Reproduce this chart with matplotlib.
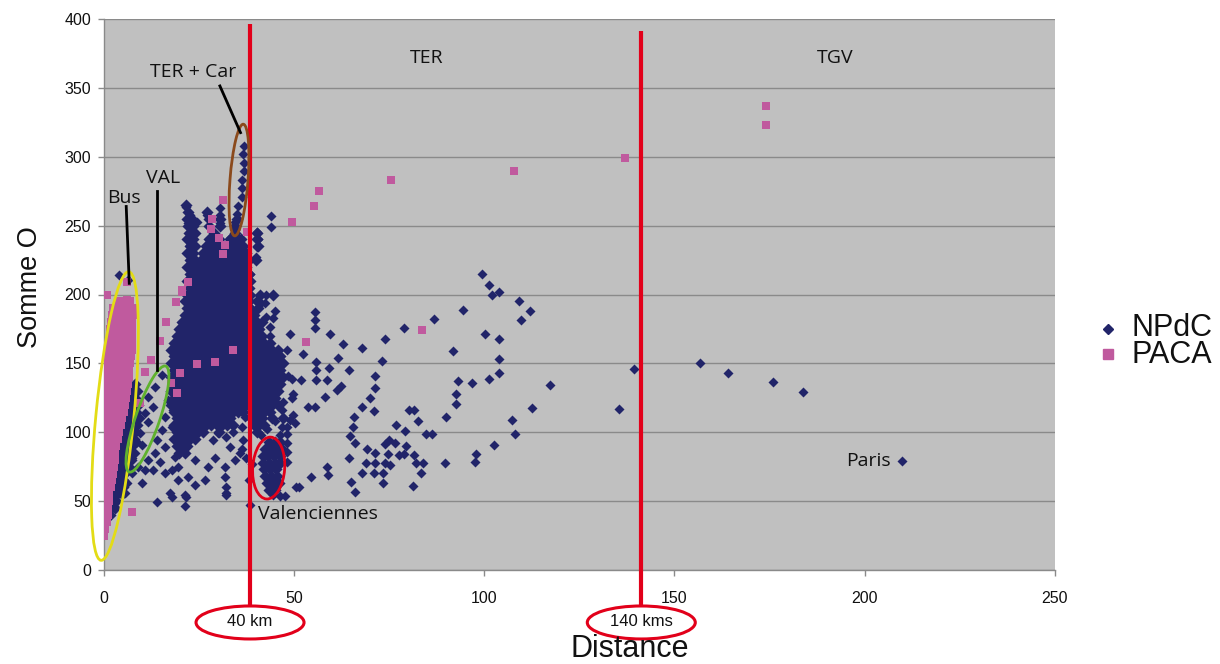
import matplotlib
matplotlib.use("Agg")
import matplotlib.pyplot as plt
from matplotlib.patches import Ellipse
from matplotlib.transforms import ScaledTranslation
from matplotlib.lines import Line2D

# ---------------- data ----------------
x_ticks = [0, 50, 100, 150, 200, 250]
y_ticks = [0, 50, 100, 150, 200, 250, 300, 350, 400]

# scattered NPdC points (distance, somme O)
npdc_sparse = [
    (139.5, 146), (135.4, 117), (156.8, 150), (164.2, 142.8), (175.8, 136.3), (183.8, 129), (209.9, 79),
    (99.5, 214.6), (101.3, 207), (102.2, 199.6), (104, 201.8), (109.3, 195.4), (112.1, 188), (109.8, 181.3),
    (94.4, 189), (86.9, 182), (78.9, 175.4), (100.3, 171), (103.9, 167.8), (91.8, 159), (104, 153),
    (101.4, 139), (104, 142.9), (117.3, 134), (93.1, 137), (96.8, 136), (92.6, 127.5), (92.6, 120.8),
    (89.9, 111.2), (112.5, 117.9), (107.2, 109), (108.2, 98.7), (102.6, 91), (98, 84.2), (97.7, 78.6),
    (89.8, 77.4), (84.8, 98.7), (86.3, 98.7), (80.2, 116), (81.5, 116), (82.6, 108.4),
    (83.5, 70.2), (83.9, 77.4), (81.3, 61), (82, 77.4), (81.5, 83.5), (78.9, 84.2), (77.6, 83.5),
    (79.4, 90), (79.1, 101), (76.8, 105.3), (76.5, 92.4), (75, 94.4), (73.9, 91.2), (74.8, 84.2),
    (75.2, 76.2), (73.9, 77.4), (73.4, 70.2), (73.4, 63.4), (71, 70.2), (71.3, 77.4), (71.3, 85),
    (69.3, 87.8), (69.1, 77.4), (68, 70.6), (66.2, 56.8), (65, 64), (64.5, 81), (66.2, 92), (64.7, 97.3),
    (65.6, 104), (65.7, 111.3), (67.9, 118), (71.1, 115.6), (70.1, 125), (71.3, 132), (71.3, 141),
    (73.3, 151.7), (73.9, 167.7), (68, 161), (62.9, 164), (59.4, 171), (61.6, 153.7), (59.2, 147),
    (64.4, 145), (61.4, 131), (62.5, 133.4), (58.1, 125.8),
    (55.6, 187.5), (55.6, 181.5), (55.6, 175.5), (48.9, 171.5), (55.8, 151), (55.8, 145), (55.8, 138),
    (58.7, 137.7), (53.8, 118), (55.6, 118), (48.2, 159.5), (52.4, 157), (46.3, 151.7), (48.5, 140.5),
    (49.4, 139), (51.9, 138), (49.8, 128), (49.4, 124.6), (47.2, 122), (46.8, 116), (49.8, 112.5),
    (48.9, 109), (50.3, 106.5), (48.1, 104), (48.1, 99), (48.1, 92), (48.1, 86), (48.1, 78.6),
    (58.6, 74.8), (59, 69), (54.4, 67.5), (51.4, 60.5), (50.5, 60), (47.6, 53.5), (46.3, 53.7), (44.6, 54.4),
    (43.9, 257), (43.9, 249), (40.2, 245.6), (40.6, 240), (40.2, 234.7), (40, 227), (38.5, 215),
    (42.8, 199.6), (41.3, 193.6), (42.4, 193.6), (45, 188), (42.8, 184), (44.6, 182.7), (43.7, 176.6),
    (43.7, 170),
    (36.9, 307.8), (36.7, 302), (36.9, 295.7), (36.9, 290), (36.3, 283), (36.3, 277), (36.3, 270.6),
    (35.4, 264), (35.1, 258.4), (34.5, 252.8), (34.5, 246.8),
    (21.8, 263.7), (22.7, 257.7), (24.5, 252.8), (22.3, 251.7), (22.7, 245.6), (24, 244.4), (22.7, 240.8),
    (22.7, 236), (30.6, 262.5), (30.6, 257.7), (30.6, 251.7), (35, 242), (33.2, 240.8),
    (15.3, 141.6), (13.5, 133), (11.8, 125.8), (13.1, 118.5), (10.9, 113.7), (11.8, 107.7), (9.6, 99.2),
    (8.7, 93), (10, 90.7), (8.3, 84.7), (7.4, 81), (9.1, 75), (17.9, 133), (17, 123.4), (18.3, 116),
    (16.1, 111.3), (17.9, 104), (15.3, 101.6), (14, 94.4), (16.1, 89.5), (13.5, 84.7), (11.8, 79.9),
    (14.8, 78.6), (10.9, 72.6), (13.1, 72.6), (16.1, 70.2), (17.9, 72.6), (19.6, 65.3), (17.9, 53.2),
    (14, 49.6), (10, 63), (7.4, 70.2), (6.1, 63), (5.6, 55.7), (3, 72.6), (7.8, 130.7), (6.5, 121),
    (4.1, 214.5), (6.5, 210.5),
    (24, 80), (22.3, 67.7), (24, 61.7), (29.3, 81), (27.5, 75), (31.9, 75), (31.9, 67.7), (32.3, 60.5),
    (32.3, 54.4), (35.8, 84.7), (34.5, 80), (21.4, 54.4), (21.4, 46.7), (33.2, 89.5), (28.8, 94.4),
    (30.1, 99.2), (32.3, 96.8), (34.1, 100.4), (36.7, 94.4), (36.3, 104), (37.1, 111.3), (35.4, 116),
    (18.8, 82.3), (19.6, 75), (17.5, 55.7), (21.8, 53.2), (32.3, 55.7), (26.6, 65.3),
    (36, 119), (36.5, 88), (37.5, 81), (39, 77), (38.3, 65), (38.4, 47),
    (41, 105), (43, 102), (45, 108), (47, 104), (46.5, 98), (41.5, 98),
    (27.2, 258), (27.8, 250), (29, 245),
]

# dense NPdC areas, written row by row: (somme O, [distances])
npdc_rows = [
    (265, [21.8]),
    (260, [22.2, 27.2]),
    (255, [22.0, 23.3, 27.8, 30.6, 35.1]),
    (250, [22.3, 23.6, 27.8, 30.6, 34.6]),
    (245, [22.5, 24.0, 29.0, 34.5, 40.2]),
    (240, [22.0, 23.4, 27.6, 29.0, 30.4, 33.2, 34.6, 36.0, 40.4]),
    (235, [22.7, 24.1, 26.9, 28.3, 29.7, 31.1, 32.5, 33.9, 35.3, 36.7, 40.6]),
    (230, [22.0, 23.4, 26.2, 27.6, 29.0, 30.4, 31.8, 33.2, 34.6, 36.0, 37.4]),
    (225, [22.7, 24.1, 25.5, 26.9, 28.3, 29.7, 31.1, 32.5, 33.9, 35.3, 36.7, 38.1, 40.0]),
    (220, [22.0, 23.4, 24.8, 26.2, 27.6, 29.0, 30.4, 31.8, 33.2, 34.6, 36.0, 37.4]),
    (215, [22.7, 24.1, 25.5, 26.9, 28.3, 29.7, 31.1, 32.5, 33.9, 35.3, 36.7, 38.1]),
    (210, [22.0, 23.4, 24.8, 26.2, 27.6, 29.0, 30.4, 31.8, 33.2, 34.6, 36.0, 37.4, 38.4]),
    (205, [22.7, 24.1, 25.5, 26.9, 28.3, 29.7, 31.1, 32.5, 33.9, 35.3, 36.7, 38.1]),
    (200, [22.0, 23.4, 24.8, 26.2, 27.6, 29.0, 30.4, 31.8, 33.2, 34.6, 36.0, 37.4, 38.4, 41.0, 44.6]),
    (195, [21.3, 22.7, 24.1, 25.5, 26.9, 28.3, 29.7, 31.1, 32.5, 33.9, 35.3, 36.7, 38.1, 40.4]),
    (190, [22.0, 23.4, 24.8, 26.2, 27.6, 29.0, 30.4, 31.8, 33.2, 34.6, 36.0, 37.4, 38.5, 40.6]),
    (185, [21.3, 22.7, 24.1, 25.5, 26.9, 28.3, 29.7, 31.1, 32.5, 33.9, 35.3, 36.7, 38.1, 39.5]),
    (180, [20.6, 22.0, 23.4, 24.8, 26.2, 27.6, 29.0, 30.4, 31.8, 33.2, 34.6, 36.0, 37.4, 38.8, 40.2, 41.6]),
    (175, [19.9, 21.3, 22.7, 24.1, 25.5, 26.9, 28.3, 29.7, 31.1, 32.5, 33.9, 35.3, 36.7, 38.1, 39.5, 40.9]),
    (170, [19.2, 20.6, 22.0, 23.4, 24.8, 26.2, 27.6, 29.0, 30.4, 31.8, 33.2, 34.6, 36.0, 37.4, 38.8, 40.2, 41.6]),
    (165, [18.5, 19.9, 21.3, 22.7, 24.1, 25.5, 26.9, 28.3, 29.7, 31.1, 32.5, 33.9, 35.3, 36.7, 38.1, 39.5, 40.9, 42.3, 43.7]),
    (160, [17.8, 19.2, 20.6, 22.0, 23.4, 24.8, 26.2, 27.6, 29.0, 30.4, 31.8, 33.2, 34.6, 36.0, 37.4, 38.8, 40.2, 41.6, 43.0, 44.4, 45.8]),
    (155, [18.5, 19.9, 21.3, 22.7, 24.1, 25.5, 26.9, 28.3, 29.7, 31.1, 32.5, 33.9, 35.3, 36.7, 38.1, 39.5, 40.9, 42.3, 43.7, 45.1, 46.5]),
    (150, [17.8, 19.2, 20.6, 22.0, 23.4, 24.8, 26.2, 27.6, 29.0, 30.4, 31.8, 33.2, 34.6, 36.0, 37.4, 38.8, 40.2, 41.6, 43.0, 44.4, 45.8, 47.2]),
    (145, [18.5, 19.9, 21.3, 22.7, 24.1, 25.5, 26.9, 28.3, 29.7, 31.1, 32.5, 33.9, 35.3, 36.7, 38.1, 39.5, 40.9, 42.3, 43.7, 45.1, 46.5]),
    (140, [17.8, 19.2, 20.6, 22.0, 23.4, 24.8, 26.2, 27.6, 29.0, 30.4, 31.8, 33.2, 34.6, 36.0, 37.4, 38.8, 40.2, 41.6, 43.0, 44.4, 45.8, 47.2]),
    (135, [18.5, 19.9, 21.3, 22.7, 24.1, 25.5, 26.9, 28.3, 29.7, 31.1, 32.5, 33.9, 35.3, 36.7, 38.1, 39.5, 40.9, 42.3, 43.7, 45.1, 46.5]),
    (130, [17.8, 19.2, 20.6, 22.0, 23.4, 24.8, 26.2, 27.6, 29.0, 30.4, 31.8, 33.2, 34.6, 36.0, 37.4, 38.8, 40.2, 41.6, 43.0, 44.4, 45.8]),
    (125, [18.5, 19.9, 21.3, 22.7, 24.1, 25.5, 26.9, 28.3, 29.7, 31.1, 32.5, 33.9, 35.3, 36.7, 38.1, 39.5, 40.9, 42.3, 43.7, 45.1]),
    (120, [17.8, 19.2, 20.6, 22.0, 23.4, 24.8, 26.2, 27.6, 29.0, 30.4, 31.8, 33.2, 34.6, 36.0, 37.4, 38.8, 40.2, 41.6, 43.0, 44.4, 45.8]),
    (115, [18.5, 19.9, 21.3, 22.7, 24.1, 25.5, 26.9, 28.3, 29.7, 31.1, 32.5, 33.9, 35.3, 36.7, 39.5, 40.9, 42.3, 43.7]),
    (110, [19.2, 20.6, 22.0, 23.4, 24.8, 26.2, 27.6, 29.0, 30.4, 31.8, 33.2, 38.8, 40.2, 41.6, 44.4, 47.2]),
    (105, [18.5, 19.9, 21.3, 22.7, 24.1, 25.5, 26.9, 28.3, 29.7, 31.1, 32.5, 33.9, 39.5, 42.3]),
    (100, [19.2, 20.6, 22.0, 23.4, 24.8, 26.2, 30.4, 40.2]),
    (95, [18.5, 19.9, 21.3, 22.7, 24.1]),
    (90, [19.2, 20.6, 22.0]),
    (85, [19.9, 21.3]),
    # Valenciennes group
    (93, [43.5, 45.0, 46.5]),
    (88, [42.5, 44.0, 45.5, 47.0]),
    (83, [41.8, 43.3, 44.8, 46.3]),
    (78, [42.0, 43.5, 45.0, 46.5]),
    (73, [42.2, 43.7, 45.2]),
    (68, [42.5, 44.0, 45.5]),
    (63, [43.0, 44.5, 46.0]),
    (58, [43.5, 45.0]),
    # short distances (next to / under the PACA column)
    (135, [8.2]),
    (130, [7.5, 8.8]),
    (125, [7.0, 8.3]),
    (120, [6.5, 7.8, 9.0]),
    (115, [6.2, 7.4, 8.6]),
    (110, [5.8, 7.0, 8.2, 9.4]),
    (105, [5.2, 6.4, 7.6, 8.8]),
    (100, [4.8, 6.0, 7.2, 8.4]),
    (95, [4.5, 5.7, 6.9, 8.1]),
    (90, [4.0, 5.2, 6.4, 7.6]),
    (85, [3.8, 5.0, 6.2, 7.4]),
    (80, [3.5, 4.7, 5.9, 7.1]),
    (75, [3.2, 4.4, 5.6, 6.8]),
    (70, [3.0, 4.2, 5.4]),
    (65, [2.8, 4.0, 5.2]),
    (60, [2.6, 3.8, 5.0]),
    (55, [2.4, 3.6, 4.8]),
    (50, [2.2, 3.4]),
    (45, [2.0, 3.0]),
    (40, [1.6]),
]

# scattered PACA points
paca_sparse = [
    (1.0, 199.6), (6.3, 209), (6.3, 196), (7.0, 187.5), (31.3, 268.6), (28.4, 254.6), (28.2, 247.5),
    (30.3, 241), (31.9, 236), (31.4, 229.5), (37.6, 245.6), (22.2, 209), (20.7, 202), (19.0, 194.8),
    (16.3, 180), (14.8, 166.5), (12.5, 152.2), (10.8, 144), (34.1, 159.5), (29.3, 151), (24.6, 149.3),
    (20.2, 142.8), (17.7, 135.5), (19.3, 128.3), (9.6, 121), (7.4, 42.3), (20.5, 203),
    (53.1, 165.7), (83.6, 174), (49.6, 252.5), (55.2, 264.5), (56.6, 275), (75.6, 283), (107.8, 290),
    (136.9, 299), (174.1, 337), (174.1, 323),
]

# dense PACA column, row by row: (somme O, [distances])
paca_rows = [
    (195, [4.0, 5.5, 7.0]),
    (190, [2.5, 4.0, 5.5, 7.0, 7.8]),
    (185, [2.2, 3.6, 5.0, 6.4, 7.8]),
    (180, [2.0, 3.4, 4.8, 6.2, 7.6]),
    (175, [1.8, 3.2, 4.6, 6.0, 7.6]),
    (170, [1.6, 3.0, 4.4, 5.8, 7.5]),
    (165, [1.5, 2.9, 4.3, 5.7, 7.5]),
    (160, [1.4, 2.8, 4.2, 5.6, 7.4]),
    (155, [1.2, 2.6, 4.0, 5.4, 7.2]),
    (150, [1.0, 2.4, 3.8, 5.2, 7.0]),
    (145, [0.9, 2.3, 3.7, 5.1, 6.8]),
    (140, [0.8, 2.2, 3.6, 5.0, 6.6]),
    (135, [0.8, 2.1, 3.5, 4.9, 6.4]),
    (130, [0.7, 2.0, 3.4, 4.8, 6.2]),
    (125, [0.6, 1.9, 3.2, 4.6, 5.9]),
    (120, [0.6, 1.8, 3.1, 4.4, 5.6]),
    (115, [0.5, 1.7, 3.0, 4.2, 5.3]),
    (110, [0.5, 1.6, 2.8, 4.0, 4.9]),
    (105, [0.4, 1.5, 2.7, 3.8, 4.5]),
    (100, [0.4, 1.4, 2.5, 3.6, 4.1]),
    (95, [0.3, 1.3, 2.4, 3.4, 3.8]),
    (90, [0.3, 1.2, 2.2, 3.2]),
    (85, [0.3, 1.2, 2.1, 3.0]),
    (80, [0.2, 1.1, 2.0, 2.9]),
    (75, [0.2, 1.0, 1.9, 2.7]),
    (70, [0.2, 1.0, 1.8, 2.5]),
    (65, [0.2, 0.9, 1.7, 2.3]),
    (60, [0.2, 0.9, 1.6, 2.1]),
    (55, [0.2, 0.8, 1.5]),
    (50, [0.2, 0.8, 1.4]),
    (45, [0.1, 0.7, 1.3]),
    (40, [0.1, 0.7, 1.2]),
    (35, [0.1, 0.6, 1.0]),
    (30, [0.1, 0.5]),
    (25, [0.2]),
]

# threshold distances marked with red lines
threshold_km = [38.5, 141.3]
threshold_labels = ["40 km", "140 kms"]

# ---------------- assemble series ----------------
npdc_sx = [p[0] for p in npdc_sparse]
npdc_sy = [p[1] for p in npdc_sparse]
npdc_dx = [x for y, xs in npdc_rows for x in xs]
npdc_dy = [y for y, xs in npdc_rows for x in xs]
paca_x = [p[0] for p in paca_sparse] + [x for y, xs in paca_rows for x in xs]
paca_y = [p[1] for p in paca_sparse] + [y for y, xs in paca_rows for x in xs]

NAVY = "#212469"
PINK = "#c05a9e"
RED = "#e2001a"
SANS = ["Liberation Sans", "DejaVu Sans"]
HUMAN = ["Open Sans", "DejaVu Sans"]

W, H = 1220, 664
fig = plt.figure(figsize=(W / 100, H / 100), dpi=100)
fig.patch.set_facecolor("white")
ax = fig.add_axes([103.5 / W, 1 - 570 / H, (1055 - 103.5) / W, (570 - 19) / H])
ax.set_facecolor("#c0c0c0")
ax.set_xlim(0, 250)
ax.set_ylim(0, 400)
ax.set_xticks(x_ticks)
ax.set_yticks(y_ticks)
ax.set_axisbelow(True)
ax.grid(axis="y", color="#8a8a8a", lw=1.0)
for s in ["top", "right"]:
    ax.spines[s].set_visible(False)
for s in ["left", "bottom"]:
    ax.spines[s].set_color("#8a8a8a")
    ax.spines[s].set_linewidth(1.0)
ax.tick_params(axis="both", colors="#8a8a8a", labelcolor="#111111", length=4, width=1, direction="out")
ax.tick_params(axis="x", pad=11)
ax.tick_params(axis="y", pad=5)
for lab in ax.get_xticklabels() + ax.get_yticklabels():
    lab.set_fontfamily(SANS)
    lab.set_fontsize(11.5)

# NPdC: scattered points, then the dense areas (overlapping markers fill the blob)
ax.scatter(npdc_sx, npdc_sy, marker="D", s=26, color=NAVY, linewidths=0, zorder=3)
ax.scatter(npdc_dx, npdc_dy, marker="D", s=38, color=NAVY, linewidths=0, zorder=3)
ax.scatter(paca_x, paca_y, marker="s", s=40, color=PINK, linewidths=0, zorder=3)

# red threshold lines and their ellipse labels
for xk, lab, top in zip(threshold_km, threshold_labels, [396.4, 391.3]):
    ax.plot([xk, xk], [top, -26], color=RED, lw=3.0, clip_on=False, zorder=5, solid_capstyle="butt")
    tr = ScaledTranslation(xk, -38.1, ax.transData)
    ax.add_patch(Ellipse((0, 0), 108, 33, transform=tr, fill=False, edgecolor=RED, lw=2.2,
                         clip_on=False, zorder=6))
    ax.text(xk, -37.5, lab, ha="center", va="center", fontsize=12, family=SANS, color="#111111",
            clip_on=False, zorder=7)


def ring(xd, yd, w, h, ang, color, lw=2.0):
    tr = ScaledTranslation(xd, yd, ax.transData)
    ax.add_patch(Ellipse((0, 0), w, h, angle=ang, transform=tr, fill=False, edgecolor=color,
                         lw=lw, clip_on=False, zorder=6))


ring(3.0, 111.8, 38, 290, -5.5, "#e3dc16", 2.0)     # Bus
ring(11.55, 109.6, 24, 112, -19, "#5fb22e", 2.0)    # VAL
ring(35.6, 283.1, 18, 112, -4.4, "#8b4a1c", 2.0)    # TER + Car
ring(43.4, 74.0, 32, 62, -4, RED, 2.0)              # Valenciennes

# pointer lines
ax.plot([5.97, 6.77], [263.9, 208.1], color="black", lw=2.0, zorder=6, clip_on=False)
ax.plot([13.96, 13.96], [275.4, 145.2], color="black", lw=2.0, zorder=6, clip_on=False)
ax.plot([30.58, 36.0], [351.4, 317.5], color="black", lw=2.0, zorder=6, clip_on=False)

# annotations
ann = dict(fontsize=14, family=HUMAN, color="#111111", zorder=7)
ax.text(85.0, 371.7, "TER", ha="center", va="center", **ann)
ax.text(192.3, 371.7, "TGV", ha="center", va="center", **ann)
ax.text(23.5, 361.5, "TER + Car", ha="center", va="center", **ann)
ax.text(5.3, 270.0, "Bus", ha="center", va="center", **ann)
ax.text(15.6, 284.6, "VAL", ha="center", va="center", **ann)
ax.text(195.0, 79.1, "Paris", ha="left", va="center", **ann)
ax.text(40.5, 40.7, "Valenciennes", ha="left", va="center", **ann)

# axis titles
fig.text(30 / W, 1 - 287 / H, "Somme O", rotation=90, ha="center", va="center", fontsize=19.5,
         family=SANS, color="#111111")
fig.text(630 / W, 1 - 649 / H, "Distance", ha="center", va="center", fontsize=22, family=SANS,
         color="#111111")

# legend
fig.add_artist(Line2D([1108 / W], [1 - 329 / H], marker="D", markersize=5.5, color=NAVY,
                      linestyle="none", transform=fig.transFigure))
fig.add_artist(Line2D([1108 / W], [1 - 353.5 / H], marker="s", markersize=6.5, color=PINK,
                      linestyle="none", transform=fig.transFigure))
fig.text(1132 / W, 1 - 328 / H, "NPdC", ha="left", va="center", fontsize=22, family=SANS, color="#111111")
fig.text(1132 / W, 1 - 355 / H, "PACA", ha="left", va="center", fontsize=22, family=SANS, color="#111111")

fig.savefig("out.png", dpi=100)
